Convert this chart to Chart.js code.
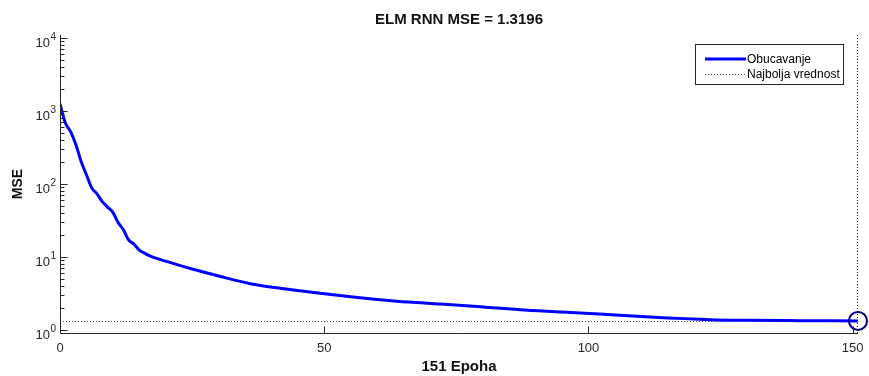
<!DOCTYPE html>
<html>
<head>
<meta charset="utf-8">
<script src="https://cdn.jsdelivr.net/npm/chart.js@4.4.1/dist/chart.umd.min.js"></script>
<style>
html,body{margin:0;padding:0;background:#ffffff;}
canvas{display:block;}
</style>
</head>
<body>
<canvas id="c" width="869" height="376" style="width:869px;height:376px"></canvas>
<script>
// ---- data ----
const chartTitle = 'ELM RNN MSE = 1.3196';
const xTitle = '151 Epoha';
const yTitle = 'MSE';
const legendLabels = ['Obucavanje', 'Najbolja vrednost'];
const epochs = [0,1,2,3,4,5,6,7,8,9,10,11,12,13,14,15,16,17,20,25,30,36,42,48,55,60,66,72,80,87,95,102,110,115,120,123,130,140,151];
const mse = [1250,690,520,346,202,133,88,73,57,48,40.5,29.5,23.4,16.9,14.9,12.3,11.2,10.3,8.7,6.8,5.45,4.27,3.68,3.24,2.83,2.6,2.39,2.25,2.05,1.88,1.75,1.64,1.52,1.45,1.40,1.37,1.345,1.33,1.3196];
const bestEpoch = 151;
const bestMse = 1.3196;
const xTicks = [0, 50, 100, 150];
const yTickExponents = [0, 1, 2, 3, 4];
const yMinorMultipliers = [2, 3, 4, 5, 6, 7, 8, 9];
const xRange = [0, 151];
const yRange = [0.9, 11000];

const FONT = "'Liberation Sans', Arial, Helvetica, sans-serif";
const AXIS = '#262626';

const decor = {
  id: 'decor',
  beforeDatasetsDraw(chart) {
    const ctx = chart.ctx;
    const xs = chart.scales.x, ys = chart.scales.y;
    ctx.save();
    ctx.lineWidth = 1;
    ctx.setLineDash([1, 2]);
    // best value (horizontal)
    const hy = Math.round(ys.getPixelForValue(bestMse)) + 0.5;
    ctx.strokeStyle = '#45458f';
    ctx.beginPath(); ctx.moveTo(xs.getPixelForValue(xRange[0]), hy); ctx.lineTo(xs.getPixelForValue(bestEpoch), hy); ctx.stroke();
    // best epoch (vertical)
    const vx = Math.round(xs.getPixelForValue(bestEpoch)) - 0.5;
    ctx.strokeStyle = '#0000ff';
    ctx.beginPath(); ctx.moveTo(vx, ys.getPixelForValue(yRange[1])); ctx.lineTo(vx, ys.getPixelForValue(yRange[0])); ctx.stroke();
    ctx.restore();
  },
  afterDraw(chart) {
    const ctx = chart.ctx;
    const a = chart.chartArea;
    const xs = chart.scales.x, ys = chart.scales.y;
    ctx.save();
    ctx.strokeStyle = AXIS;
    ctx.lineWidth = 1;
    const left = Math.floor(a.left) + 0.5;
    const bottom = Math.floor(a.bottom) + 0.5;
    // axis lines
    ctx.beginPath();
    ctx.moveTo(left, Math.floor(a.top));
    ctx.lineTo(left, bottom);
    ctx.lineTo(Math.ceil(a.right), bottom);
    ctx.stroke();
    // y ticks (inward) + labels
    yTickExponents.forEach(e => {
      const base = Math.pow(10, e);
      const py = Math.round(ys.getPixelForValue(base)) + 0.5;
      ctx.beginPath(); ctx.moveTo(left, py); ctx.lineTo(left + 7, py); ctx.stroke();
      yMinorMultipliers.forEach(m => {
        const v = m * base;
        if (v < ys.min || v > ys.max) return;
        const p = Math.round(ys.getPixelForValue(v)) + 0.5;
        ctx.beginPath(); ctx.moveTo(left, p); ctx.lineTo(left + 4, p); ctx.stroke();
      });
      ctx.fillStyle = AXIS;
      ctx.textBaseline = 'middle';
      ctx.font = '13px ' + FONT;
      ctx.textAlign = 'right';
      ctx.fillText('10', 50, py + 4.5);
      ctx.font = '10px ' + FONT;
      ctx.textAlign = 'left';
      ctx.fillText(String(e), 50.5, py - 1);
    });
    // x ticks (inward)
    xTicks.forEach(v => {
      const px = Math.round(xs.getPixelForValue(v)) + 0.5;
      ctx.beginPath(); ctx.moveTo(px, bottom); ctx.lineTo(px, bottom - 7); ctx.stroke();
    });
    // title
    ctx.fillStyle = '#111111';
    ctx.font = 'bold 15px ' + FONT;
    ctx.textAlign = 'center';
    ctx.textBaseline = 'middle';
    ctx.fillText(chartTitle, (a.left + a.right) / 2, 20);
    // legend
    const lx = 695.5, ly = 44.5, lw = 148, lh = 40;
    ctx.fillStyle = '#ffffff';
    ctx.fillRect(lx, ly, lw, lh);
    ctx.strokeStyle = '#262626';
    ctx.strokeRect(lx, ly, lw, lh);
    ctx.strokeStyle = '#0000ff';
    ctx.lineWidth = 3;
    ctx.beginPath(); ctx.moveTo(705, 59); ctx.lineTo(746, 59); ctx.stroke();
    ctx.strokeStyle = '#45458f';
    ctx.lineWidth = 1;
    ctx.setLineDash([1, 2]);
    ctx.beginPath(); ctx.moveTo(705, 74.5); ctx.lineTo(746, 74.5); ctx.stroke();
    ctx.setLineDash([]);
    ctx.fillStyle = '#000000';
    ctx.font = '12px ' + FONT;
    ctx.textAlign = 'left';
    ctx.textBaseline = 'middle';
    ctx.fillText(legendLabels[0], 747, 59.5);
    ctx.fillText(legendLabels[1], 747, 74.5);
    ctx.restore();
  }
};

new Chart(document.getElementById('c'), {
  type: 'scatter',
  data: {
    datasets: [
      {
        label: legendLabels[0],
        data: epochs.map((e, i) => ({x: e, y: mse[i]})),
        showLine: true,
        borderColor: '#0000ff',
        borderWidth: 3,
        pointRadius: 0,
        cubicInterpolationMode: 'monotone',
        order: 1
      },
      {
        label: 'best point',
        data: [{x: bestEpoch, y: bestMse}],
        showLine: false,
        pointRadius: 9,
        pointBorderWidth: 2,
        pointBorderColor: '#000080',
        pointBackgroundColor: 'rgba(0,0,0,0)',
        clip: false,
        order: 0
      }
    ]
  },
  options: {
    responsive: false,
    animation: false,
    devicePixelRatio: 1,
    layout: {padding: {top: 35, right: 11, bottom: 0, left: 0}},
    plugins: {legend: {display: false}, tooltip: {enabled: false}, title: {display: false}},
    scales: {
      x: {
        type: 'linear',
        min: xRange[0],
        max: xRange[1],
        afterBuildTicks: s => { s.ticks = xTicks.map(v => ({value: v})); },
        afterFit: s => { s.height = 43; s.paddingLeft = 0; s.paddingRight = 0; },
        ticks: {font: {family: FONT, size: 13}, color: AXIS, padding: 8, maxRotation: 0, autoSkip: false},
        grid: {display: false, drawTicks: false},
        border: {display: false},
        title: {display: true, text: xTitle, color: '#111111', font: {family: FONT, size: 15, weight: 'bold'}, padding: {top: 0, bottom: 0}}
      },
      y: {
        type: 'logarithmic',
        min: yRange[0],
        max: yRange[1],
        afterFit: s => { s.width = 60; s.paddingTop = 0; s.paddingBottom = 0; },
        ticks: {display: false},
        grid: {display: false, drawTicks: false},
        border: {display: false},
        title: {display: true, text: yTitle, color: '#111111', font: {family: FONT, size: 14, weight: 'bold'}, padding: {top: 10, bottom: 0}}
      }
    }
  },
  plugins: [decor]
});
</script>
</body>
</html>
